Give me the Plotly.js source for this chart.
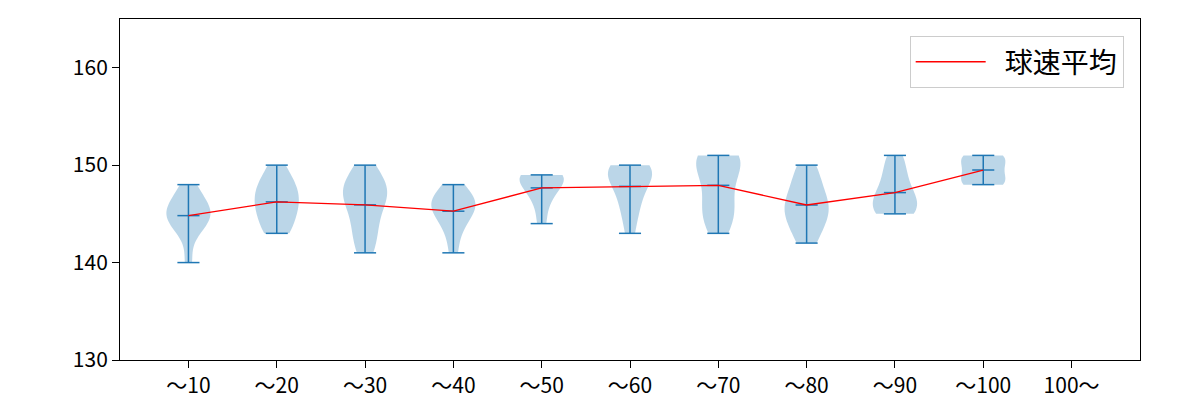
<!DOCTYPE html>
<html>
<head>
<meta charset="utf-8">
<script src="https://cdn.plot.ly/plotly-3.0.1.min.js"></script>
<style>html,body{margin:0;padding:0;background:#fff;}#chart{width:1200px;height:400px;}</style>
</head>
<body>
<div id="chart"></div>
<script>
// Categories (tick labels)
const categories = ['～10','～20','～30','～40','～50','～60','～70','～80','～90','～100','100～'];

// Pitch speed samples (km/h) per category
const speeds10  = [140,143,144,144,145,145,145,146,146,147,148];
const speeds20  = [143,143,144,145,145,146,146,147,147,148,148,149,150];
const speeds30  = [141,142,143,144,145,146,147,147,147,148,148,149,150];
const speeds40  = [141,143,144,145,145,146,146,146,147,147,148];
const speeds50  = [144,146,147,148,148,149,149,149,149];
const speeds60  = [143,145,146,147,148,149,149,149,150,150,150];
const speeds70  = [143,144,145,145,146,147,148,149,150,150,151,151,151,151];
const speeds80  = [142,143,144,145,145,146,146,147,148,149,150];
const speeds90  = [145,145,145,146,146,147,147,148,149,150,151];
const speeds100 = [148,148,148,149,149,150,150,151,151,151];
const speedsOver100 = [];

const seriesSamples = [speeds10,speeds20,speeds30,speeds40,speeds50,speeds60,speeds70,speeds80,speeds90,speeds100,speedsOver100];

const yTicks = [130,140,150,160];
const legendName = '球速平均';

// ---- styling ----
const BLUE = '#1f77b4';
const VIOLIN_WIDTH = 0.5;
const CAP_HALF = VIOLIN_WIDTH * 0.25;
const FONT = '"Noto Sans CJK JP", "Noto Sans", sans-serif';
const TICK_SIZE = 21;

function mean(a){ return a.reduce((s,v)=>s+v,0)/a.length; }
function scottBw(a){
  const m = mean(a);
  const v = a.reduce((s,x)=>s+(x-m)*(x-m),0)/(a.length-1);
  return Math.sqrt(v) * Math.pow(a.length, -0.2);
}

const traces = [];
const stemX = [], stemY = [], capX = [], capY = [];
const meanX = [], meanY = [];

seriesSamples.forEach((s, i) => {
  const pos = i + 1;
  if (!s.length) return;
  traces.push({
    type: 'violin', x0: pos, y: s, width: VIOLIN_WIDTH,
    bandwidth: scottBw(s), spanmode: 'hard', scalemode: 'width',
    points: false, box: {visible: false}, meanline: {visible: false},
    fillcolor: 'rgba(31,119,180,0.3)', line: {width: 0, color: 'rgba(0,0,0,0)'},
    showlegend: false, hoverinfo: 'skip', orientation: 'v'
  });
  const mn = Math.min(...s), mx = Math.max(...s), mu = mean(s);
  stemX.push(pos, pos, null); stemY.push(mn, mx, null);
  [mn, mx, mu].forEach(v => { capX.push(pos - CAP_HALF, pos + CAP_HALF, null); capY.push(v, v, null); });
  meanX.push(pos); meanY.push(mu);
});

traces.push({type:'scatter', mode:'lines', x: stemX, y: stemY, line:{color:BLUE, width:1.5}, showlegend:false, hoverinfo:'skip'});
traces.push({type:'scatter', mode:'lines', x: capX, y: capY, line:{color:BLUE, width:1.5}, showlegend:false, hoverinfo:'skip'});
traces.push({type:'scatter', mode:'lines', x: meanX, y: meanY, name: '\u2002' + legendName, line:{color:'red', width:1.3}, showlegend:true});

const layout = {
  width: 1200, height: 400,
  margin: {l:120, r:60, t:19, b:40},
  paper_bgcolor: '#fff', plot_bgcolor: '#fff',
  font: {family: FONT, size: TICK_SIZE, color: '#000'},
  violinmode: 'overlay',
  showlegend: true,
  xaxis: {
    range: [0.225, 11.775], tickmode: 'array',
    tickvals: categories.map((c,i)=>i+1), ticktext: categories,
    showgrid: false, zeroline: false,
    showline: true, mirror: true, linecolor: '#000', linewidth: 1,
    ticks: 'outside', ticklen: 7, tickwidth: 1, tickcolor: '#000',
    tickfont: {family: FONT, size: TICK_SIZE, color: '#000'}
  },
  yaxis: {
    range: [130, 165], tickmode: 'array', tickvals: yTicks,
    showgrid: false, zeroline: false,
    showline: true, mirror: true, linecolor: '#000', linewidth: 1,
    ticks: 'outside', ticklen: 7, tickwidth: 1, tickcolor: '#000',
    tickfont: {family: FONT, size: TICK_SIZE, color: '#000'}
  },
  legend: {
    x: 0.984, y: 0.95, xanchor: 'right', yanchor: 'top',
    bgcolor: '#fff', bordercolor: '#cccccc', borderwidth: 1,
    font: {family: FONT, size: 28, color: '#000'},
    itemwidth: 70
  }
};

Plotly.newPlot('chart', traces, layout, {staticPlot: true, displayModeBar: false});
</script>
</body>
</html>
